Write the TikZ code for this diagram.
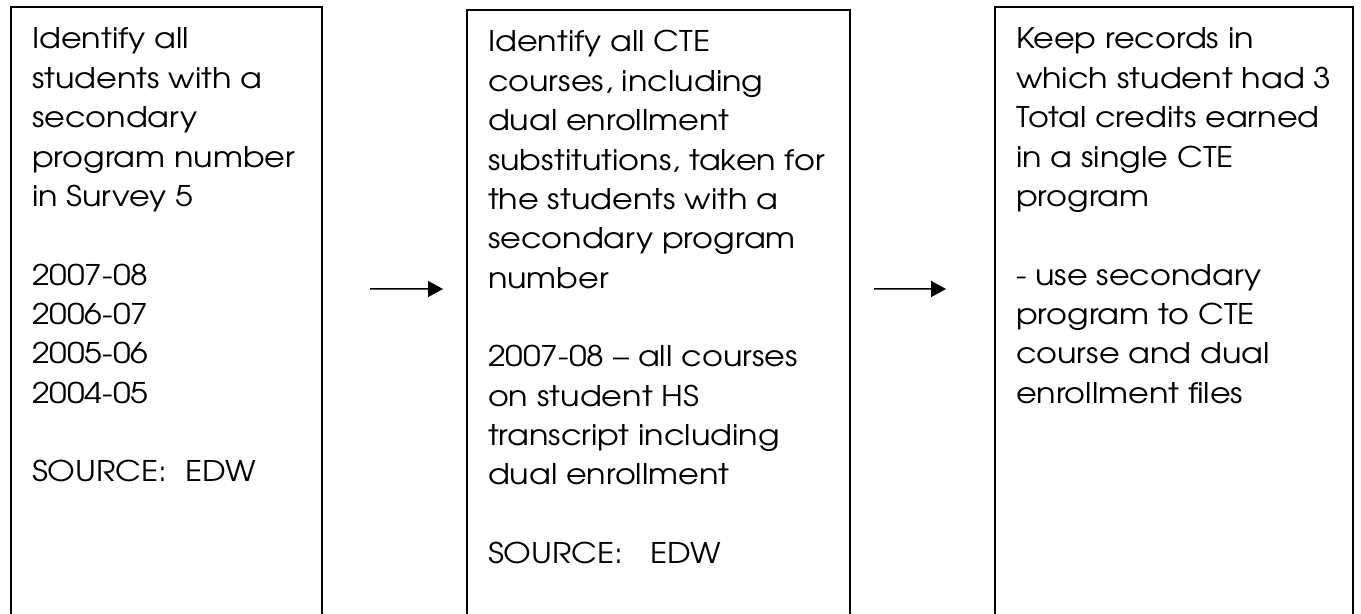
\documentclass[tikz,border=0pt]{standalone}
\usepackage{fontspec}
\setmainfont[FakeStretch=1.12]{TeX Gyre Adventor}
\usetikzlibrary{arrows.meta}

\tikzset{
    stage/.style={draw, line width=0.04cm, rectangle, anchor=north west,
        inner xsep=0.42cm, inner ysep=0pt, outer sep=0pt,
        font=\fontsize{16.2}{22.4}\selectfont},
    flow/.style={line width=0.03cm, -{Triangle[length=0.3cm, width=0.32cm]}}
}
% top-aligned text in a tall frame
\newcommand{\stagetext}[2]{\parbox[t][13cm][t]{#1}{\raggedright\rule{0pt}{0.84cm}#2}}

\begin{document}
\begin{tikzpicture}
            \useasboundingbox (0,0) rectangle (27.22,-12.28);
            \clip (0,0) rectangle (27.22,-12.28);

            % The three stages
            \node[stage] (survey) at (0.22,-0.14) {\stagetext{5.38cm}{Identify all\\
                students with a\\
                secondary\\
                program number\\
                in Survey 5\\[22.4pt]
                2007-08\\
                2006-07\\
                2005-06\\
                2004-05\\[22.4pt]
                SOURCE:\ \ EDW}};

            \node[stage] (courses) at (9.34,-0.2) {\stagetext{6.82cm}{Identify all CTE\\
                courses, including\\
                dual enrollment\\
                substitutions, taken for\\
                the students with a\\
                secondary program\\
                number\\[22.4pt]
                2007-08 -- all courses\\
                on student HS\\
                transcript including\\
                dual enrollment\\[22.4pt]
                SOURCE:\ \ \ EDW}};

            \node[stage] (records) at (19.9,-0.14) {\stagetext{6.32cm}{Keep records in\\
                which student had 3\\
                Total credits earned\\
                in a single CTE\\
                program\\[22.4pt]
                - use secondary\\
                program to CTE\\
                course and dual\\
                enrollment files}};

            % Arrows
            \draw[flow, shorten <=0.96cm, shorten >=0.48cm]
                ([yshift=-5.64cm]survey.north east) -- ([yshift=-5.58cm]courses.north west);
            \draw[flow, shorten <=0.48cm, shorten >=0.98cm]
                ([yshift=-5.58cm]courses.north east) -- ([yshift=-5.64cm]records.north west);

        \end{tikzpicture}
\end{document}
